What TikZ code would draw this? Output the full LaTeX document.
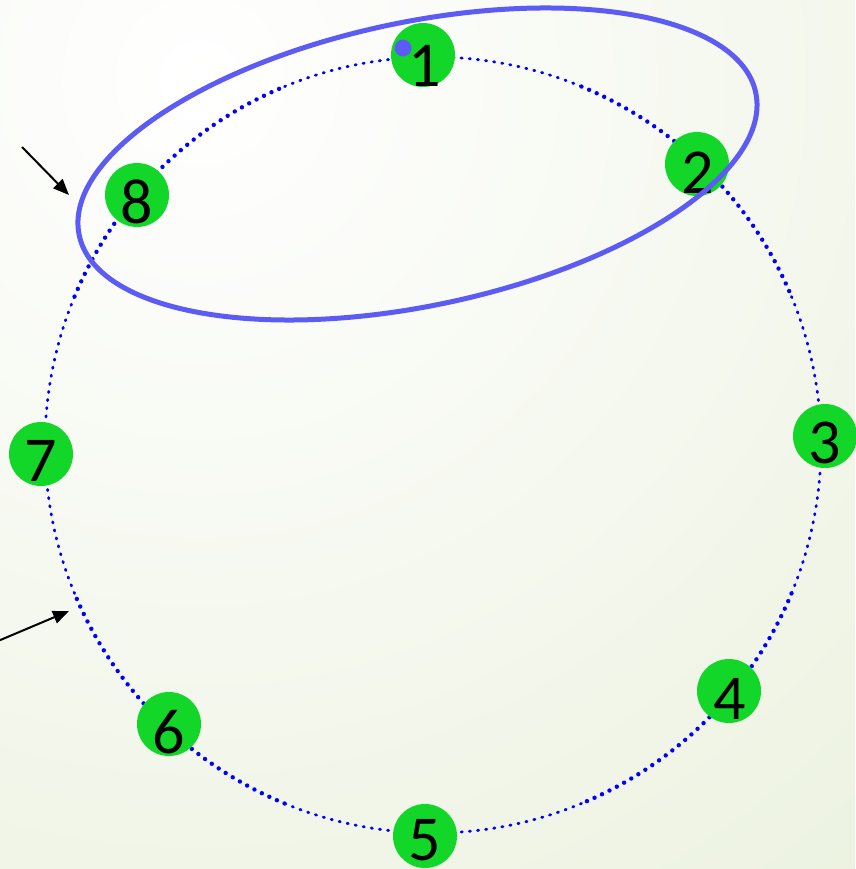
\documentclass[tikz,border=0pt]{standalone}
\usepackage{fontspec}
\setmainfont{Carlito}
\usetikzlibrary{arrows.meta}
\definecolor{bgc}{RGB}{236,242,224}
\definecolor{nodegreen}{RGB}{18,214,40}
\definecolor{ellblue}{RGB}{92,92,245}
\definecolor{ringblue}{RGB}{0,0,255}
\begin{document}
\begin{tikzpicture}[x=1pt,y=-1pt,
  ringthin/.style={draw=ringblue,line width=2.8pt,line cap=round,dash pattern=on 1.2pt off 7pt},
  ringthick/.style={draw=ringblue,line width=4.4pt,line cap=round,dash pattern=on 0pt off 8.3pt},
  numdisc/.style={circle,fill=nodegreen,minimum size=64pt,inner sep=0pt},
  numtxt/.style={font=\fontsize{64}{64}\selectfont,inner sep=0pt,text=black},
  pointer/.style={draw=black,line width=2pt,-{Triangle[length=16pt,width=13pt]}},
  loop/.style={draw=ellblue,line width=5pt}]
\useasboundingbox (0,0) rectangle (855,869);
\begin{scope}
\clip (0,0) rectangle (855,869);
\fill[white] (0,0) rectangle (855,869);
\shade[inner color=white, outer color=bgc] (200,80) circle [radius=1050];
\end{scope}
\coordinate (c) at (433,445);
% dotted ring
\foreach \a in {0,90,180,270}
  \draw[ringthin] (c) ++(\a-22.5:388) arc[start angle=\a-22.5, delta angle=45, radius=388];
\foreach \a in {45,135,225,315}
  \draw[ringthick] (c) ++(\a-22.5:388) arc[start angle=\a-22.5, delta angle=45, radius=388];
% nodes
\node[numdisc] (n1) at (423,55) {};
\node[numdisc] (n2) at (697,164) {};
\node[numdisc] (n3) at (825,436) {};
\node[numdisc] (n4) at (729,691) {};
\node[numdisc] (n5) at (425,836) {};
\node[numdisc] (n6) at (169,724) {};
\node[numdisc] (n7) at (41,454) {};
\node[numdisc] (n8) at (137,195) {};
\node[numtxt] (t1) at ([xshift=2pt,yshift=-11pt]n1) {1};
\node[numtxt] (t2) at ([xshift=1pt,yshift=-9pt]n2) {2};
\node[numtxt] (t3) at ([xshift=0pt,yshift=-7pt]n3) {3};
\node[numtxt] (t4) at ([xshift=1pt,yshift=-8pt]n4) {4};
\node[numtxt] (t5) at ([xshift=0pt,yshift=-4pt]n5) {5};
\node[numtxt] (t6) at ([xshift=0pt,yshift=-8pt]n6) {6};
\node[numtxt] (t7) at ([xshift=0pt,yshift=-7pt]n7) {7};
\node[numtxt] (t8) at ([xshift=0pt,yshift=-7pt]n8) {8};
% ellipse
\coordinate (ec) at (417.5,164);
\draw[loop, rotate around={11.9:(ec)}] (ec) ellipse [x radius=345.7, y radius=141.8];
\fill[ellblue] (403,48) circle [radius=8.5];
% pointers
\coordinate (p1s) at (22,147);
\coordinate (p1e) at (69,195);
\coordinate (p2s) at (-2,641);
\coordinate (p2e) at (69,611);
\draw[pointer] (p1s) -- (p1e);
\draw[pointer] (p2s) -- (p2e);
\end{tikzpicture}
\end{document}
